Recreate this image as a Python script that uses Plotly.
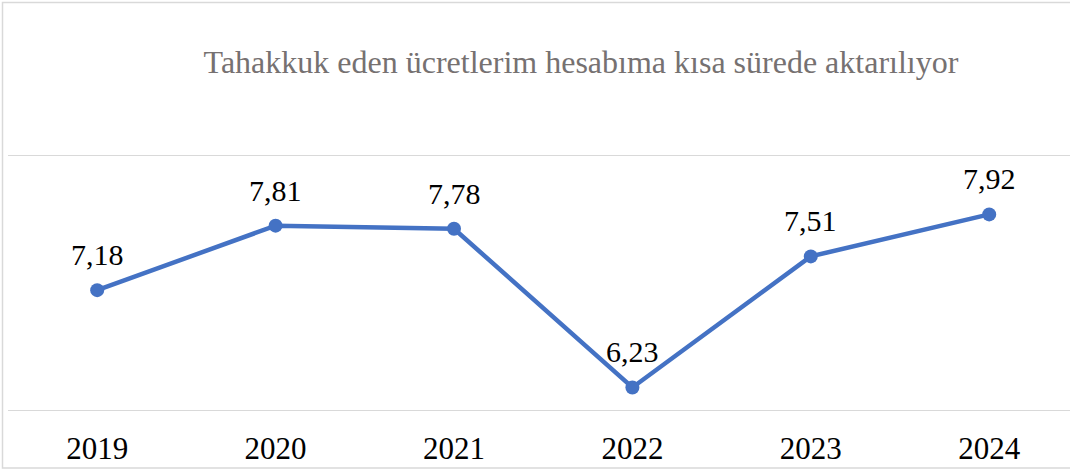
import plotly.graph_objects as go

years = ["2019", "2020", "2021", "2022", "2023", "2024"]
values = [7.18, 7.81, 7.78, 6.23, 7.51, 7.92]
labels = [f"{v:.2f}".replace(".", ",") for v in values]
title_text = "Tahakkuk eden ücretlerim hesabıma kısa sürede aktarılıyor"
grid_values = [6.0, 8.5]

xpos = list(range(len(years)))
SERIF = "Liberation Serif, Times New Roman, serif"

fig = go.Figure()
fig.add_trace(go.Scatter(
    x=xpos, y=values, mode="lines+markers",
    line=dict(color="#4472C4", width=4.5),
    marker=dict(color="#4472C4", size=14),
    cliponaxis=False, hoverinfo="skip",
))

for xv, yv, lab in zip(xpos, values, labels):
    fig.add_annotation(x=xv, y=yv, text=lab, showarrow=False,
                       xanchor="center", yanchor="bottom", yshift=17,
                       font=dict(family=SERIF, size=30, color="#000000"))

W, H = 1070, 470
L, R, T, B = 8, 0, 155, 59
pw = W - L - R
ph = H - T - B

def px_to_paper_x(px):
    return (px - L) / pw

def px_to_paper_y(py):
    return (H - B - py) / ph

fig.add_shape(type="rect", xref="paper", yref="paper",
              x0=px_to_paper_x(2.5), x1=px_to_paper_x(1090),
              y0=px_to_paper_y(468), y1=px_to_paper_y(2.5),
              line=dict(color="#d9d9d9", width=1.5), layer="below")

for gv in grid_values:
    fig.add_shape(type="line", xref="paper", yref="y",
                  x0=0, x1=1, y0=gv, y1=gv,
                  line=dict(color="#d9d9d9", width=2), layer="below")

fig.update_layout(
    width=W, height=H,
    margin=dict(l=L, r=R, t=T, b=B),
    paper_bgcolor="white", plot_bgcolor="white",
    showlegend=False,
    title=dict(text=title_text, x=581 / W, xanchor="center",
               y=1 - 62 / H, yanchor="middle",
               font=dict(family=SERIF, size=32, color="#767171")),
    xaxis=dict(range=[-0.5, -0.5 + pw / 178.4], tickvals=xpos, ticktext=years,
               showgrid=False, zeroline=False, showline=False,
               ticks="", ticklabelstandoff=16,
               tickfont=dict(family=SERIF, size=31, color="#000000")),
    yaxis=dict(range=[6, 8.5], showticklabels=False, showgrid=False,
               zeroline=False, showline=False, ticks=""),
)

fig.write_html("out.html", config={"displayModeBar": False},
               post_script="document.body.style.margin='0';document.body.style.overflow='hidden';")
